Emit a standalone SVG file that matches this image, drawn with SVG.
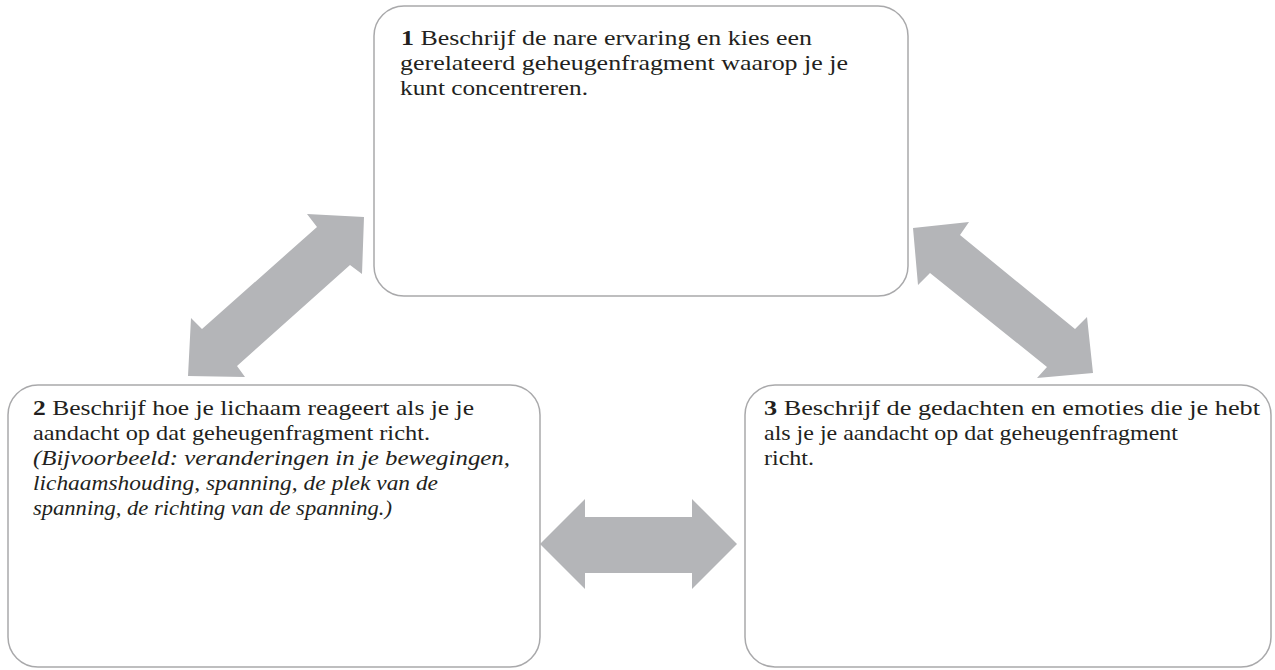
<svg xmlns="http://www.w3.org/2000/svg" width="1275" height="670" viewBox="0 0 1275 670">
  <style>
    .box { fill: #ffffff; stroke: #a9a9ab; stroke-width: 1.5; }
    .arrow { fill: #b4b5b8; stroke: none; }
    .txt { font-family: "Liberation Serif", "DejaVu Serif", serif; font-size: 22px; fill: #231f20; }
    .num { font-weight: bold; }
    .ital { font-style: italic; }
  </style>
  <rect width="1275" height="670" fill="#ffffff"/>

  <!-- double-headed connectors -->
  <g id="connectors">
    <polygon class="arrow" points="364,217 362,274 350,265 237,366 245,377 188,376 191,318 202,329 317,227 307,214"/>
    <polygon class="arrow" points="913,228 969,222 960,235 1075,329 1087,317 1093,373 1037,378 1047,367 930,273 918,285"/>
    <polygon class="arrow" points="540,544 585,499 585,517 692,517 692,499 737,544 692,589 692,573 585,573 585,589"/>
  </g>

  <g id="node1">
    <rect class="box" x="374" y="6" width="534" height="290" rx="30"/>
    <text class="txt" x="401" y="45" textLength="411" lengthAdjust="spacingAndGlyphs"><tspan class="num">1</tspan> Beschrijf de nare ervaring en kies een</text>
    <text class="txt" x="400" y="70" textLength="448" lengthAdjust="spacingAndGlyphs">gerelateerd geheugenfragment waarop je je</text>
    <text class="txt" x="400" y="95" textLength="188" lengthAdjust="spacingAndGlyphs">kunt concentreren.</text>
  </g>

  <g id="node2">
    <rect class="box" x="8" y="385" width="532" height="282" rx="30"/>
    <text class="txt" x="33" y="415" textLength="441" lengthAdjust="spacingAndGlyphs"><tspan class="num">2</tspan> Beschrijf hoe je lichaam reageert als je je</text>
    <text class="txt" x="33" y="440" textLength="397" lengthAdjust="spacingAndGlyphs">aandacht op dat geheugenfragment richt.</text>
    <text class="txt ital" x="33" y="465" textLength="477" lengthAdjust="spacingAndGlyphs">(Bijvoorbeeld: veranderingen in je bewegingen,</text>
    <text class="txt ital" x="33" y="490" textLength="405" lengthAdjust="spacingAndGlyphs">lichaamshouding, spanning, de plek van de</text>
    <text class="txt ital" x="33" y="515" textLength="359" lengthAdjust="spacingAndGlyphs">spanning, de richting van de spanning.)</text>
  </g>

  <g id="node3">
    <rect class="box" x="745" y="385" width="526" height="282" rx="30"/>
    <text class="txt" x="764" y="415" textLength="496" lengthAdjust="spacingAndGlyphs"><tspan class="num">3</tspan> Beschrijf de gedachten en emoties die je hebt</text>
    <text class="txt" x="764" y="440" textLength="414" lengthAdjust="spacingAndGlyphs">als je je aandacht op dat geheugenfragment</text>
    <text class="txt" x="764" y="465" textLength="50" lengthAdjust="spacingAndGlyphs">richt.</text>
  </g>
</svg>
